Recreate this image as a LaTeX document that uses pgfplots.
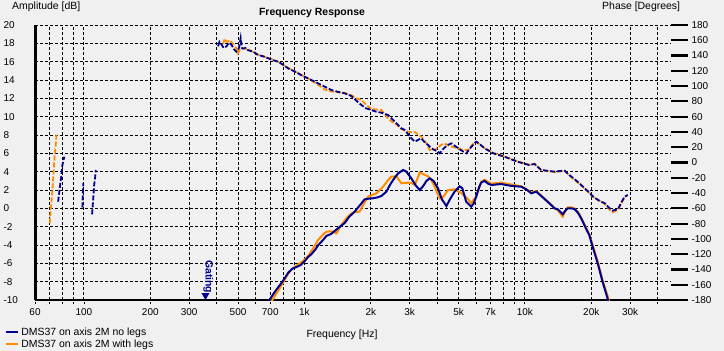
\documentclass[border=0pt]{standalone}
\usepackage{fontspec}
\setmainfont{Liberation Sans}
\usepackage{pgfplots}
\pgfplotsset{compat=1.18}
\definecolor{dmsblue}{RGB}{0,0,140}
\definecolor{dmsorange}{RGB}{255,140,0}
\definecolor{bgc}{RGB}{240,240,240}
\newcommand\cf{\fontsize{10.5}{12}\selectfont}
\newcommand\tf{\fontsize{10}{12}\selectfont}
\begin{document}
\begin{tikzpicture}
\fill[bgc] (-35bp,-51bp) rectangle (689bp,300bp);
\path[use as bounding box] (-35bp,-51bp) rectangle (689bp,300bp);
% ---------------- amplitude axis ----------------
\begin{axis}[
  at={(0,0)}, anchor=south west, scale only axis,
  width=636bp, height=275bp,
  xmode=log, xmin=60, xmax=46000, ymin=-10, ymax=20,
  axis x line*=bottom, axis y line*=left,
  x axis line style={line width=2.5bp, -, shorten >=-17bp},
  y axis line style={line width=3bp, -},
  xtick={60,100,200,300,500,700,1000,2000,3000,5000,7000,10000,20000,30000},
  xticklabels={60,100,200,300,500,700,1k,2k,3k,5k,7k,10k,20k,30k},
  minor xtick={70,80,90,400,600,800,900,4000,6000,8000,9000,40000},
  ytick={-10,-8,...,20},
  yticklabels={-10,-8,-6,-4,-2,0,2,4,6,8,10,12,14,16,18,20},
  grid=both,
  major grid style={black, line width=1bp, dash pattern=on 3bp off 2bp},
  minor grid style={black, line width=1bp, dash pattern=on 3bp off 2bp},
  tick align=outside, major tick length=4bp, minor tick length=4bp,
  xtick style={black, line width=0.8bp, dash pattern=on 2bp off 1bp},
  ytick style={draw=none},
  ticklabel style={font=\tf},
  yticklabel style={anchor=west, xshift=-31bp},
  xticklabel style={yshift=-1bp},
  legend style={at={(axis description cs:-0.047,-0.092)}, anchor=north west,
     draw=none, fill=none, font=\cf, inner sep=0pt, row sep=-1bp,
     cells={anchor=west}},
  legend image code/.code={\draw[#1] (0bp,0bp) -- (12bp,0bp);},
]
\addlegendimage{dmsblue, line width=2bp}
\addlegendentry{DMS37 on axis 2M no legs}
\addlegendimage{dmsorange, line width=2bp}
\addlegendentry{DMS37 on axis 2M with legs}
% orange amplitude (with legs)
\addplot[dmsorange, line width=2bp, forget plot] table {
700 -10.3
716 -10
760 -9
800 -8.1
846 -7.1
880 -6.6
940 -6.1
990 -5.7
1040 -5.2
1100 -4.3
1154 -3.45
1210 -2.9
1258 -2.55
1326 -2.5
1397 -2.73
1472 -1.8
1560 -1.0
1634 -0.55
1700 -0.4
1781 -0.36
1860 0.5
1945 1.27
2121 1.64
2274 2.36
2400 3.1
2480 3.45
2614 3.5
2754 2.73
2953 2.8
3060 2.75
3167 2.55
3250 3.2
3335 3.9
3480 3.7
3637 3.5
3780 3.0
3901 2.36
4000 1.7
4113 1.1
4250 1.2
4480 2.0
4800 2.07
5160 1.64
5530 1.0
5700 0.55
6014 1.3
6336 2.9
6564 3.1
7049 2.7
7821 2.8
8680 2.6
9631 2.4
10145 2.1
10686 1.7
11256 1.9
11857 1.4
12500 0.9
13157 0.4
13640 0.0
14096 -0.2
14847 -0.9
15200 -0.4
15640 0.1
16200 0.1
16757 0
17653 -0.6
18593 -1.7
19585 -2.8
20300 -4.0
21400 -5.8
22500 -7.8
23900 -9.8
24200 -10.3
};
% blue amplitude (no legs)
\addplot[dmsblue, line width=2bp, forget plot] table {
680 -10.3
694 -10
740 -9
795 -8
846 -7
880 -6.6
920 -6.4
960 -6.2
1000 -5.8
1040 -5.3
1076 -5
1120 -4.5
1157 -4
1210 -3.5
1260 -3
1320 -2.8
1400 -2.3
1523 -1.6
1600 -0.9
1691 -0.36
1780 0.3
1876 0.98
1950 1.05
2049 1.1
2150 1.2
2235 1.35
2355 1.82
2450 2.6
2560 3.3
2663 3.82
2803 4.18
2900 4.0
3055 3.27
3200 2.5
3335 2.0
3450 2.4
3580 3.0
3703 3.27
3850 3.0
4036 2.18
4200 1.0
4406 0.25
4600 1.1
4800 1.82
5060 2.4
5200 2.2
5418 0.73
5708 0.18
5850 0.5
6014 1.27
6200 2.3
6336 2.8
6564 3.0
6800 2.7
7049 2.55
7400 2.6
7821 2.65
8200 2.55
8680 2.45
9200 2.4
9631 2.36
10145 2.07
10686 1.64
11256 1.82
11857 1.35
12500 0.85
13157 0.36
13640 0.0
14096 -0.11
14500 -0.4
14847 -0.65
15200 -0.3
15640 0
16200 0
16757 -0.07
17300 -0.4
17653 -0.73
18100 -1.2
18593 -1.8
19100 -2.4
19585 -2.9
20300 -4.2
21400 -6
22500 -8
23700 -9.8
24000 -10.3
};
% gating marker
\fill[dmsblue] (axis cs:356,-10) ++(-4bp,7bp) -- ++(8bp,0bp) -- (axis cs:356,-10) -- cycle;
\node[rotate=-90, anchor=west, inner sep=0pt, text=dmsblue, font=\cf\bfseries] at (axis cs:367,-5.64) {Gating};
\end{axis}
% ---------------- phase axis ----------------
\begin{axis}[
  at={(0,0)}, anchor=south west, scale only axis,
  width=636bp, height=275bp,
  xmode=log, xmin=60, xmax=46000, ymin=-180, ymax=180,
  hide x axis, axis y line*=right,
  y axis line style={draw=none},
  ytick={-180,-160,...,180},
  yticklabels={-180,-160,-140,-120,-100,-80,-60,-40,-20,0,20,40,60,80,100,120,140,160,180},
  tick align=outside, major tick length=17bp,
  major tick style={black, line width=2.2bp},
  ytick style={black, line width=2.2bp},
  ticklabel style={font=\tf},
  yticklabel style={anchor=west, xshift=0bp},
]
% orange phase
\addplot[dmsorange, line width=1.8bp, dash pattern=on 5bp off 2bp] table {
428 155
435 162
445 158
460 160
475 155
490 150
500 143
510 148
525 150
555 148
585 145
617 141
685 137
760 132
843 124
936 117
1039 110
1150 102
1230 96
1281 94
1330 93
1420 92
1523 91
1634 88
1720 84
1813 81.8
1900 76
2012 70
2235 68.7
2395 58
2500 53
2614 50
2753 44
2900 41
3000 40
3167 40
3300 36
3389 34
3600 24
3700 16.4
3900 16.4
4000 19
4175 23
4300 25
4638 21
4970 18.6
5240 16.4
5530 16.4
5800 24
6014 27
6564 19
7190 12.5
8085 8
9261 1.5
10460 -3
11060 -1.5
11860 -10
13640 -12.5
15150 -11
15900 -17
18000 -30
20400 -45
23040 -54
24260 -62
25000 -65
26470 -62
27300 -54
28320 -46
29000 -43
};
\addplot[dmsorange, line width=1.8bp, dash pattern=on 5bp off 2bp] table {
70.0 -79.6
70.7 -62.2
71.8 -40.3
72.5 -22.9
73.3 -1.0
73.8 12.0
74.6 25.1
75.1 37.3
};
% blue phase
\addplot[dmsblue, line width=1.8bp, dash pattern=on 5bp off 2bp] table {
406 152
412 158
420 155
430 150
443 152
455 157
467 154
480 148
491 145
505 150
514 163
520 150
527 149
540 150
555 147
570 146
585 145
600 143
617 140.7
650 139
685 136.4
720 134
760 132
800 128
843 123.3
890 120
936 116.8
985 113
1039 110.2
1110 106
1194 101.5
1260 98
1326 94.9
1420 92.5
1523 90.6
1634 87
1720 81
1813 75.3
1900 71
2012 68.7
2120 66.5
2235 65.2
2395 62.2
2500 57
2614 51.3
2753 44.7
2851 42.6
3055 31.7
3167 27.3
3389 31.7
3500 27
3637 22.9
3800 18
4036 14.1
4113 12
4300 19
4480 23
4638 25.1
5060 17.3
5418 12
5700 20
6014 27.3
6300 23
6564 18.6
7190 12
8085 7.6
9261 1
10460 -3.3
11060 -2
11860 -9.8
12800 -11
13640 -12
14500 -11
15150 -10.7
15900 -16.4
17000 -23
18000 -29.4
19200 -37
20400 -44.7
21700 -50
23040 -53.4
24260 -60
25000 -63
26470 -61
27300 -53
28320 -44.7
29300 -42.5
};
\addplot[dmsblue, line width=1.8bp, dash pattern=on 5bp off 2bp] table {
76.4 -51.3
77.7 -33.8
79.1 -16.4
79.9 -3.3
81.5 7.6
};
\addplot[dmsblue, line width=1.8bp, dash pattern=on 5bp off 2bp] table {
98.4 -58.7
98.8 -42.5
99.4 -27
};
\addplot[dmsblue, line width=1.8bp, dash pattern=on 5bp off 2bp] table {
108.9 -67.8
110.1 -49.1
111.3 -29.5
112.5 -18.6
113.2 -9.8
};
\end{axis}
% ---------------- texts ----------------
\node[font=\cf, anchor=base west, inner sep=0pt] at (-23bp,290bp) {Amplitude [dB]};
\node[font=\cf, anchor=base west, inner sep=0pt] at (567bp,290bp) {Phase [Degrees]};
\node[font=\cf\bfseries, anchor=base, inner sep=0pt] at (277bp,284bp) {Frequency Response};
\node[font=\cf, anchor=base, inner sep=0pt] at (307bp,-37bp) {Frequency [Hz]};
\end{tikzpicture}
\end{document}
